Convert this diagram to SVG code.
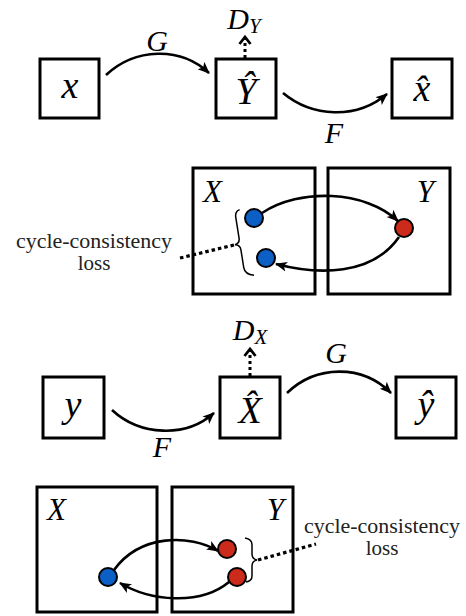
<svg xmlns="http://www.w3.org/2000/svg" width="466" height="616" viewBox="0 0 466 616">
<defs>
<style>
.box{fill:#fff;stroke:#000;stroke-width:3}
.m{font-style:italic;fill:#000}
.lbl{font-size:38px;text-anchor:middle}
.fn{font-size:30px;text-anchor:middle}
.sp{font-size:31px}
.sub{font-size:21px}
.t{font-size:21px;fill:#222;text-anchor:middle}
.arr{fill:none;stroke:#000;stroke-width:2.6;marker-end:url(#ah)}
.dot{fill:none;stroke:#000;stroke-width:3;stroke-dasharray:3 3;marker-end:url(#oh)}
.dl{fill:none;stroke:#000;stroke-width:3.2;stroke-dasharray:3.5 3}
.br{fill:none;stroke:#000;stroke-width:1.5}
.b{fill:#0b5fc5;stroke:#000;stroke-width:2}
.r{fill:#cc2a1a;stroke:#000;stroke-width:2}
</style>
<marker id="ah" markerUnits="userSpaceOnUse" markerWidth="14" markerHeight="12" refX="11" refY="6" orient="auto">
<path d="M0,1 L12,6 L0,11 L3,6 z" fill="#000"/>
</marker>
<marker id="oh" markerUnits="userSpaceOnUse" markerWidth="14" markerHeight="14" refX="8" refY="7" orient="auto">
<path d="M1,1.5 L8,7 L1,12.5" fill="none" stroke="#000" stroke-width="2.8"/>
</marker>
</defs>
<rect width="466" height="616" fill="#fff"/>
<g font-family="'Liberation Serif', 'Times New Roman', 'DejaVu Serif', serif">

<!-- top row -->
<g id="node-x">
<rect class="box" x="40" y="59" width="59" height="59"/>
<text class="m lbl" x="70" y="98">x</text>
</g>
<g id="node-Yhat">
<rect class="box" x="216" y="59" width="60" height="59"/>
<text class="m lbl" x="246" y="104">Ŷ</text>
</g>
<g id="node-xhat">
<rect class="box" x="392" y="59" width="60" height="59"/>
<text class="m lbl" x="422" y="101">x&#x302;</text>
</g>
<g id="label-DY">
<text class="m fn" x="244" y="29" text-anchor="middle">D<tspan class="sub" dy="4">Y</tspan></text>
</g>

<!-- middle panel -->
<g id="panel1-X">
<rect class="box" x="193" y="168" width="122" height="126"/>
<text class="m sp" x="203" y="202">X</text>
<circle class="b" cx="254" cy="218" r="9"/>
<circle class="b" cx="266" cy="258" r="9"/>
</g>
<g id="panel1-Y">
<rect class="box" x="328" y="168" width="122" height="126"/>
<text class="m sp" x="434" y="202" text-anchor="end">Y</text>
<circle class="r" cx="404" cy="228" r="9"/>
</g>
<g id="loss1">
<text class="t" x="94" y="248" textLength="156" lengthAdjust="spacingAndGlyphs">cycle-consistency</text>
<text class="t" x="94" y="270">loss</text>
</g>

<!-- bottom row -->
<g id="node-y">
<rect class="box" x="43" y="377" width="61" height="61"/>
<text class="m lbl" x="73" y="417">y</text>
</g>
<g id="node-Xhat">
<rect class="box" x="220" y="377" width="60" height="61"/>
<text class="m lbl" x="250" y="423">X&#x302;</text>
</g>
<g id="node-yhat">
<rect class="box" x="396" y="377" width="60" height="61"/>
<text class="m lbl" x="426" y="417">ŷ</text>
</g>
<g id="label-DX">
<text class="m fn" x="250" y="340" text-anchor="middle">D<tspan class="sub" dy="4">X</tspan></text>
</g>

<!-- bottom panel -->
<g id="panel2-X">
<rect class="box" x="37" y="487" width="120" height="125"/>
<text class="m sp" x="47" y="520">X</text>
<circle class="b" cx="108" cy="577" r="9"/>
</g>
<g id="panel2-Y">
<rect class="box" x="172" y="487" width="121" height="125"/>
<text class="m sp" x="284" y="520" text-anchor="end">Y</text>
<circle class="r" cx="227" cy="549" r="9"/>
<circle class="r" cx="237" cy="577" r="9"/>
</g>
<g id="loss2">
<text class="t" x="382" y="533" textLength="156" lengthAdjust="spacingAndGlyphs">cycle-consistency</text>
<text class="t" x="382" y="555">loss</text>
</g>

<g id="connectors">
<!-- top row -->
<path class="arr" d="M106,75 C135,48 180,46 209,73"/>
<text class="m fn" x="157" y="51">G</text>
<path class="arr" d="M283,93 C312,117 356,120 387,94"/>
<text class="m fn" x="334" y="143">F</text>
<path class="dot" d="M245,58 L245,37"/>
<!-- middle panel -->
<path class="arr" d="M262,213 C300,188 365,190 398,221"/>
<path class="arr" d="M399,237 C372,276 318,275 276,264"/>
<path class="br" transform="rotate(-9 240 244)" d="M245,210 Q240,211 240,217 L240,238 Q240,243 235,244 Q240,245 240,250 L240,268 Q240,275 249,277"/>
<path class="dl" d="M180,258 L234,245"/>
<!-- bottom row -->
<path class="arr" d="M112,410 C140,436 186,438 214,413"/>
<text class="m fn" x="162" y="457">F</text>
<path class="arr" d="M287,393 C316,365 362,364 391,393"/>
<text class="m fn" x="336" y="363">G</text>
<path class="dot" d="M250,376 L250,349"/>
<!-- bottom panel -->
<path class="arr" d="M114,570 C140,534 190,534 218,551"/>
<path class="arr" d="M229,582 C200,606 150,601 120,583"/>
<path class="br" d="M245,538 Q252,539 252,545 L252,554 Q252,559 257,560 Q252,561 252,566 L252,576 Q252,581 246,582"/>
<path class="dl" d="M258,560 L316,544"/>
</g>
</g>
</svg>
